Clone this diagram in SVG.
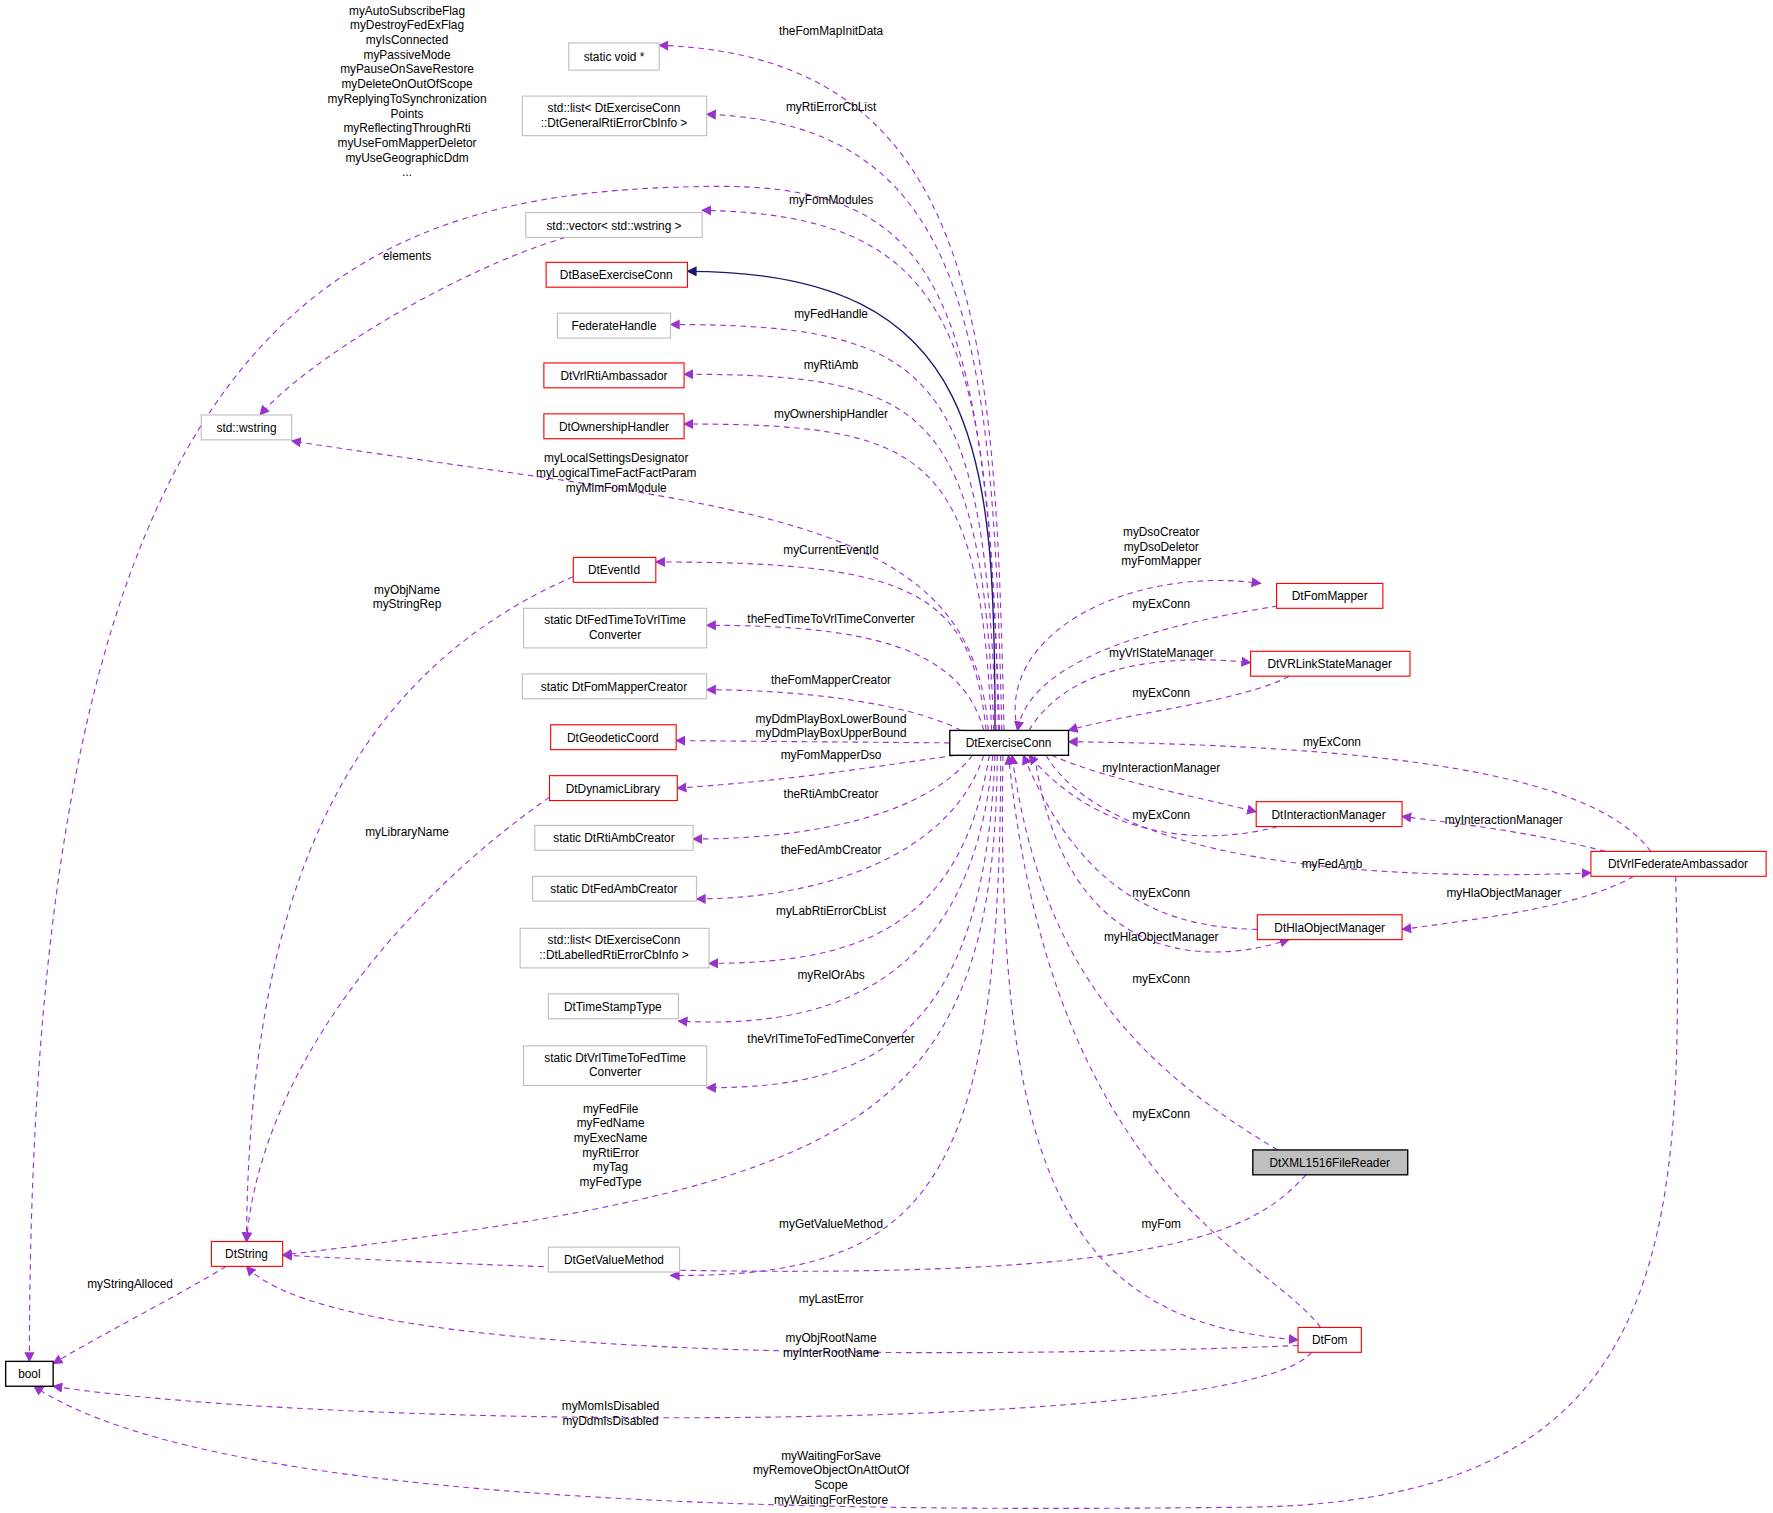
<svg xmlns="http://www.w3.org/2000/svg" width="1773" height="1513" viewBox="0 0 1773 1513">
<style>
text{font-family:"Liberation Sans",Arial,sans-serif;font-size:10.5px;fill:#000}
.n text{text-anchor:middle}
.g rect{fill:#fff;stroke:#bfbfbf;stroke-width:1}
.r rect{fill:#fff;stroke:#ff0000;stroke-width:1}
.b rect{fill:#fff;stroke:#000;stroke-width:1.2}
.e{fill:none;stroke:#9a32cd;stroke-dasharray:5,4;stroke-width:1;marker-end:url(#a)}
.l text{text-anchor:middle}
</style>
<defs>
<marker id="a" viewBox="0 0 10 10" refX="9" refY="5" markerWidth="9" markerHeight="9" orient="auto" markerUnits="userSpaceOnUse"><path d="M0,0L10,5L0,10z" fill="#9a32cd"/></marker>
<marker id="h" viewBox="0 0 10 10" refX="9" refY="5" markerWidth="9" markerHeight="9" orient="auto" markerUnits="userSpaceOnUse"><path d="M0,0L10,5L0,10z" fill="#191970"/></marker>
</defs>
<rect width="1773" height="1513" fill="#fff"/>
<g transform="scale(1.1307)">
<g id="connectors">
<path class="e" d="M888,646C880,300 870,50 583,40"/>
<path class="e" d="M886,646C878,300 860,110 625,101"/>
<path class="e" d="M884,646C872,250 830,160 620,165C300,170 26,280 26,1204"/>
<path class="e" d="M883,646C875,300 850,190 621,186"/>
<path d="M880,646C880,400 870,240 608,240" fill="none" stroke="#191970" stroke-width="1.2" marker-end="url(#h)"/>
<path class="e" d="M881,646C870,330 830,287 593,287"/>
<path class="e" d="M879,646C868,360 820,331 605,331"/>
<path class="e" d="M877,646C866,400 820,375 605,375"/>
<path class="e" d="M874,646C860,450 650,450 258,390"/>
<path class="e" d="M872,646C860,520 800,497 580,497"/>
<path class="e" d="M870,646C850,570 760,553 625,553"/>
<path class="e" d="M850,646C800,620 700,610 625,610"/>
<path class="e" d="M840,657L598,655"/>
<path class="e" d="M845,668C760,680 700,690 599,697"/>
<path class="e" d="M860,668C820,720 720,742 613,742"/>
<path class="e" d="M870,668C840,760 720,795 616,795"/>
<path class="e" d="M875,668C850,820 760,852 627,852"/>
<path class="e" d="M878,668C860,880 720,910 600,903"/>
<path class="e" d="M880,668C870,920 770,962 625,962"/>
<path class="e" d="M882,668C880,1000 750,1050 250,1110"/>
<path class="e" d="M885,668C885,1050 820,1130 593,1128"/>
<path class="e" d="M900,646C880,560 1000,500 1115,516"/>
<path class="e" d="M1130,536C1040,550 910,580 900,646"/>
<path class="e" d="M910,646C950,580 1050,580 1106,586"/>
<path class="e" d="M1140,598C1100,620 1000,630 945,646"/>
<path class="e" d="M930,668C980,690 1060,705 1111,718"/>
<path class="e" d="M1130,731C1080,745 980,750 910,668"/>
<path class="e" d="M1460,753C1420,700 1300,660 945,656"/>
<path class="e" d="M925,668C980,760 1200,780 1407,772"/>
<path class="e" d="M1420,753C1350,735 1300,730 1240,722"/>
<path class="e" d="M1445,775C1400,800 1330,810 1240,822"/>
<path class="e" d="M1112,822C1040,820 960,800 905,668"/>
<path class="e" d="M915,668C940,840 1050,860 1140,831"/>
<path class="e" d="M1130,1017C1000,940 920,850 895,668"/>
<path class="e" d="M1155,1039C1100,1100 1000,1150 250,1110"/>
<path class="e" d="M1168,1174C1120,1110 930,1050 892,668"/>
<path class="e" d="M887,668C880,1050 950,1170 1148,1185"/>
<path class="e" d="M1148,1190C900,1200 300,1210 218,1120"/>
<path class="e" d="M1160,1196C1100,1270 300,1265 47,1226"/>
<path class="e" d="M1482,775C1490,1100 1480,1330 1100,1333C800,1336 200,1340 30,1226"/>
<path class="e" d="M200,1120C150,1150 90,1180 47,1206"/>
<path class="e" d="M500,210C400,240 270,320 230,367"/>
<path class="e" d="M507,510C300,600 220,800 218,1098"/>
<path class="e" d="M486,705C350,800 230,950 218,1098"/>
</g>
<g class="l">
<text x="735" y="31">theFomMapInitData</text>
<text x="735" y="98">myRtiErrorCbList</text>
<text x="360" y="13">myAutoSubscribeFlag</text><text x="360" y="26">myDestroyFedExFlag</text><text x="360" y="39">myIsConnected</text><text x="360" y="52">myPassiveMode</text><text x="360" y="65">myPauseOnSaveRestore</text><text x="360" y="78">myDeleteOnOutOfScope</text><text x="360" y="91">myReplyingToSynchronization</text><text x="360" y="104">Points</text><text x="360" y="117">myReflectingThroughRti</text><text x="360" y="130">myUseFomMapperDeletor</text><text x="360" y="143">myUseGeographicDdm</text><text x="360" y="156">...</text>
<text x="735" y="180">myFomModules</text>
<text x="360" y="230">elements</text>
<text x="735" y="281">myFedHandle</text>
<text x="735" y="326">myRtiAmb</text>
<text x="735" y="370">myOwnershipHandler</text>
<text x="545" y="409">myLocalSettingsDesignator</text><text x="545" y="422">myLogicalTimeFactFactParam</text><text x="545" y="435">myMimFomModule</text>
<text x="735" y="490">myCurrentEventId</text>
<text x="360" y="525">myObjName</text><text x="360" y="538">myStringRep</text>
<text x="735" y="551">theFedTimeToVrlTimeConverter</text>
<text x="735" y="605">theFomMapperCreator</text>
<text x="735" y="639">myDdmPlayBoxLowerBound</text><text x="735" y="652">myDdmPlayBoxUpperBound</text>
<text x="735" y="671">myFomMapperDso</text>
<text x="735" y="706">theRtiAmbCreator</text>
<text x="360" y="739">myLibraryName</text>
<text x="735" y="755">theFedAmbCreator</text>
<text x="735" y="809">myLabRtiErrorCbList</text>
<text x="735" y="866">myRelOrAbs</text>
<text x="735" y="922">theVrlTimeToFedTimeConverter</text>
<text x="540" y="984">myFedFile</text><text x="540" y="997">myFedName</text><text x="540" y="1010">myExecName</text><text x="540" y="1023">myRtiError</text><text x="540" y="1036">myTag</text><text x="540" y="1049">myFedType</text>
<text x="735" y="1086">myGetValueMethod</text>
<text x="115" y="1139">myStringAlloced</text>
<text x="735" y="1152">myLastError</text>
<text x="735" y="1187">myObjRootName</text><text x="735" y="1200">myInterRootName</text>
<text x="540" y="1247">myMomIsDisabled</text><text x="540" y="1260">myDdmIsDisabled</text>
<text x="735" y="1291">myWaitingForSave</text><text x="735" y="1304">myRemoveObjectOnAttOutOf</text><text x="735" y="1317">Scope</text><text x="735" y="1330">myWaitingForRestore</text>
<text x="1027" y="474">myDsoCreator</text><text x="1027" y="487">myDsoDeletor</text><text x="1027" y="500">myFomMapper</text>
<text x="1027" y="538">myExConn</text>
<text x="1027" y="581">myVrlStateManager</text>
<text x="1027" y="616">myExConn</text>
<text x="1178" y="660">myExConn</text>
<text x="1027" y="683">myInteractionManager</text>
<text x="1027" y="724">myExConn</text>
<text x="1330" y="729">myInteractionManager</text>
<text x="1178" y="768">myFedAmb</text>
<text x="1027" y="793">myExConn</text>
<text x="1330" y="793">myHlaObjectManager</text>
<text x="1027" y="832">myHlaObjectManager</text>
<text x="1027" y="869">myExConn</text>
<text x="1027" y="989">myExConn</text>
<text x="1027" y="1086">myFom</text>
</g>
<g id="n1" class="n g"><rect x="503" y="38" width="80" height="24"/><text x="543" y="54">static void *</text></g>
<g id="n2" class="n g"><rect x="462" y="85" width="163" height="35"/><text x="543" y="99">std::list&lt; DtExerciseConn</text><text x="543" y="112">::DtGeneralRtiErrorCbInfo &gt;</text></g>
<g id="n3" class="n g"><rect x="465" y="188" width="156" height="22"/><text x="543" y="203">std::vector&lt; std::wstring &gt;</text></g>
<g id="n4" class="n r"><rect x="483" y="232" width="125" height="22"/><text x="545" y="247">DtBaseExerciseConn</text></g>
<g id="n5" class="n g"><rect x="493" y="277" width="100" height="22"/><text x="543" y="292">FederateHandle</text></g>
<g id="n6" class="n r"><rect x="481" y="321" width="124" height="22"/><text x="543" y="336">DtVrlRtiAmbassador</text></g>
<g id="n7" class="n r"><rect x="481" y="366" width="124" height="22"/><text x="543" y="381">DtOwnershipHandler</text></g>
<g id="n8" class="n g"><rect x="178" y="367" width="80" height="22"/><text x="218" y="382">std::wstring</text></g>
<g id="n9" class="n r"><rect x="507" y="493" width="73" height="22"/><text x="543" y="508">DtEventId</text></g>
<g id="n10" class="n g"><rect x="463" y="538" width="162" height="35"/><text x="544" y="552">static DtFedTimeToVrlTime</text><text x="544" y="565">Converter</text></g>
<g id="n11" class="n g"><rect x="462" y="596" width="163" height="22"/><text x="543" y="611">static DtFomMapperCreator</text></g>
<g id="n12" class="n r"><rect x="487" y="641" width="111" height="22"/><text x="542" y="656">DtGeodeticCoord</text></g>
<g id="n13" class="n r"><rect x="486" y="686" width="113" height="22"/><text x="542" y="701">DtDynamicLibrary</text></g>
<g id="n14" class="n g"><rect x="473" y="730" width="140" height="22"/><text x="543" y="745">static DtRtiAmbCreator</text></g>
<g id="n15" class="n g"><rect x="471" y="775" width="145" height="22"/><text x="543" y="790">static DtFedAmbCreator</text></g>
<g id="n16" class="n g"><rect x="460" y="821" width="167" height="35"/><text x="543" y="835">std::list&lt; DtExerciseConn</text><text x="543" y="848">::DtLabelledRtiErrorCbInfo &gt;</text></g>
<g id="n17" class="n g"><rect x="485" y="879" width="115" height="22"/><text x="542" y="894">DtTimeStampType</text></g>
<g id="n18" class="n g"><rect x="463" y="925" width="162" height="35"/><text x="544" y="939">static DtVrlTimeToFedTime</text><text x="544" y="952">Converter</text></g>
<g id="n19" class="n r"><rect x="187" y="1098" width="63" height="22"/><text x="218" y="1113">DtString</text></g>
<g id="n20" class="n g"><rect x="485" y="1103" width="116" height="22"/><text x="543" y="1118">DtGetValueMethod</text></g>
<g id="n21" class="n b"><rect x="5" y="1204" width="42" height="22"/><text x="26" y="1219">bool</text></g>
<g id="n22" class="n b"><rect x="840" y="646" width="105" height="22"/><text x="892" y="661">DtExerciseConn</text></g>
<g id="n23" class="n r"><rect x="1129" y="516" width="94" height="22"/><text x="1176" y="531">DtFomMapper</text></g>
<g id="n24" class="n r"><rect x="1106" y="576" width="141" height="22"/><text x="1176" y="591">DtVRLinkStateManager</text></g>
<g id="n25" class="n r"><rect x="1111" y="709" width="129" height="22"/><text x="1175" y="724">DtInteractionManager</text></g>
<g id="n26" class="n r"><rect x="1407" y="753" width="155" height="22"/><text x="1484" y="768">DtVrlFederateAmbassador</text></g>
<g id="n27" class="n r"><rect x="1112" y="809" width="128" height="22"/><text x="1176" y="824">DtHlaObjectManager</text></g>
<g id="n28" class="n b"><rect x="1108" y="1017" width="137" height="22" style="fill:#bfbfbf"/><text x="1176" y="1032">DtXML1516FileReader</text></g>
<g id="n29" class="n r"><rect x="1148" y="1174" width="56" height="22"/><text x="1176" y="1189">DtFom</text></g>
</g>
</svg>
